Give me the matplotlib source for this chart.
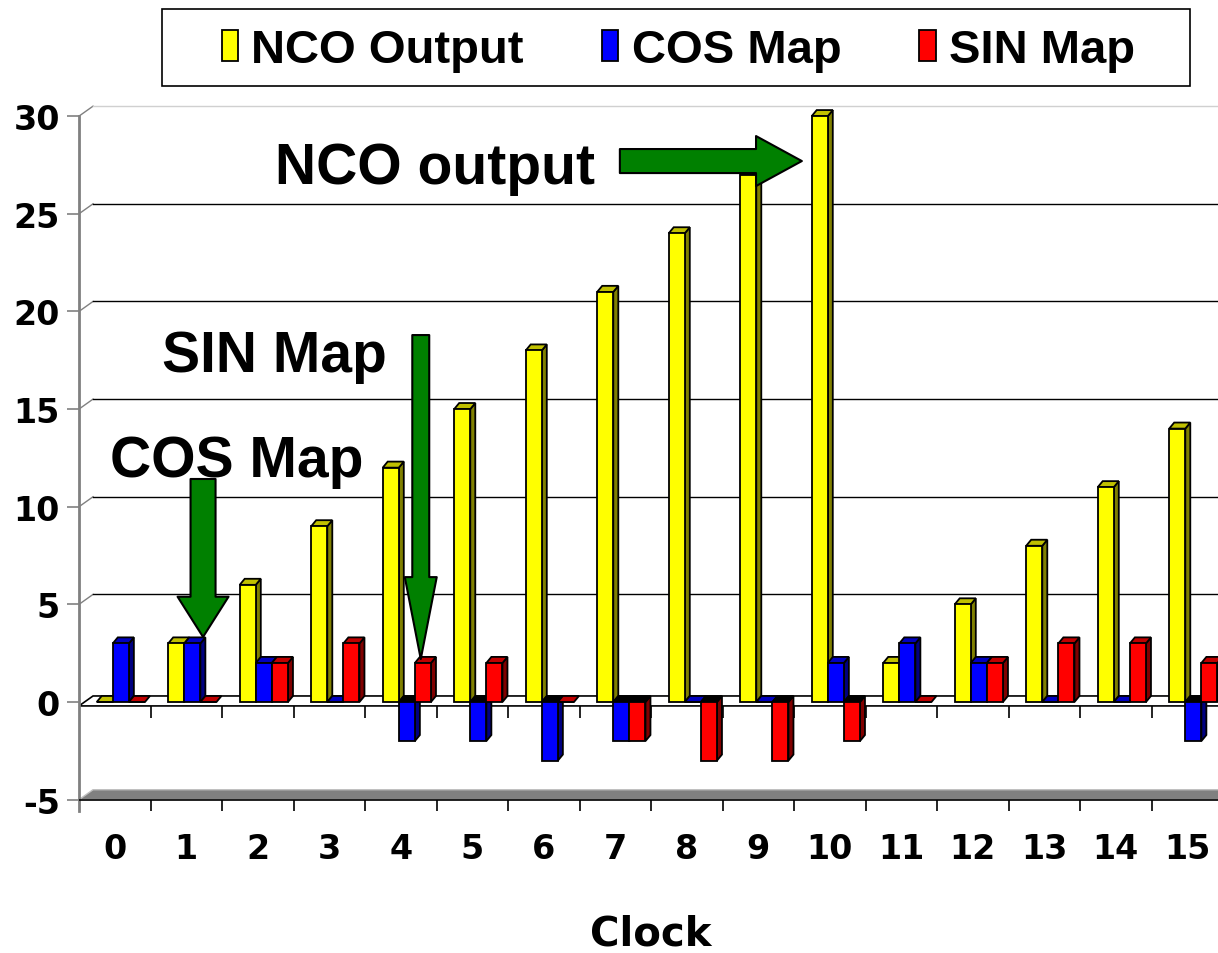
import numpy as np
import matplotlib.pyplot as plt
from matplotlib.patches import Polygon, Rectangle, ArrowStyle

# Clock steps and the three series
clock = list(range(16))
nco_output = [0, 3, 6, 9, 12, 15, 18, 21, 24, 27, 30, 2, 5, 8, 11, 14]
cos_map = [3, 3, 2, 0, -2, -2, -3, -2, 0, 0, 2, 3, 2, 0, 0, -2]
sin_map = [0, 0, 2, 3, 2, 2, 0, -2, -3, -3, -2, 0, 2, 3, 3, 2]
series_names = ['NCO Output', 'COS Map', 'SIN Map']
y_ticks = [-5, 0, 5, 10, 15, 20, 25, 30]

# front / side / top shades for the pseudo-3D bars
colours = [('#FFFF00', '#808000', '#C0C000'),
           ('#0000FF', '#000080', '#0000C0'),
           ('#FF0000', '#800000', '#C00000')]
offsets = [-0.14, 0.085, 0.31]
bar_w = 0.225
DX, DY = 0.196, 0.51     # wall depth (data units)
BDX, BDY = 0.07, 0.31    # bar depth

bold = dict(family='DejaVu Sans', weight='bold')
arial = dict(family='Liberation Sans', weight='bold')

fig = plt.figure(figsize=(12.18, 9.54), dpi=100)
ax = fig.add_axes([79 / 1218, 1 - 820.2 / 954, 1144 / 1218, 722.6 / 954])
ax.set_xlim(-0.5, 15.5)
ax.set_ylim(-6, 31)

# back wall gridlines
for v in y_ticks[2:]:
    c = '#D0D0D0' if v == 30 else 'black'
    ax.plot([-0.5, -0.5 + DX], [v, v + DY], color='#808080', lw=1, zorder=1)
    ax.plot([-0.5 + DX, 16], [v + DY, v + DY], color=c, lw=1, zorder=1)

# grey floor at -5
ax.add_patch(Polygon([(-0.5, -5), (16, -5), (16 + DX, -5 + DY), (-0.5 + DX, -5 + DY)],
                     closed=True, fc='#808080', ec='#C0C0C0', lw=1, zorder=2))
ax.plot([-0.75, 16], [-5, -5], color='black', lw=1.2, zorder=3)
# floor at zero
z0 = -0.2
ax.add_patch(Polygon([(-0.5, z0), (16, z0), (16 + DX, z0 + DY), (-0.5 + DX, z0 + DY)],
                     closed=True, fc='white', ec='black', lw=1.2, zorder=2))
# category boundary ticks
bounds = np.arange(1, 17) - 0.5
ax.vlines(bounds, -5.6, -5, color='black', lw=1.2, zorder=3)
ax.vlines(bounds, z0 - 0.6, z0, color='black', lw=1.2, zorder=3)

x = np.array(clock)
handles = []
for k, vals in enumerate([nco_output, cos_map, sin_map]):
    fc, sc, tc = colours[k]
    bars = ax.bar(x + offsets[k], vals, width=bar_w, color=fc, edgecolor='black',
                  linewidth=1.3, label=series_names[k])
    handles.append(bars)
    for i, (p, v) in enumerate(zip(bars.patches, vals)):
        n = i * 3 + k
        x0 = p.get_x()
        x1 = x0 + p.get_width()
        top = max(0, v)
        bot = min(0, v)
        p.set_zorder(10 + 3 * n + 2)
        if v != 0:
            ax.add_patch(Polygon([(x1, bot), (x1 + BDX, bot + BDY), (x1 + BDX, top + BDY), (x1, top)],
                                 closed=True, fc=sc, ec='black', lw=1.3, zorder=10 + 3 * n))
        ax.add_patch(Polygon([(x0, top), (x1, top), (x1 + BDX, top + BDY), (x0 + BDX, top + BDY)],
                             closed=True, fc=tc if v >= 0 else 'black', ec='black', lw=1.3,
                             zorder=10 + 3 * n + 1))

# axes styling
for s in ['top', 'right', 'bottom']:
    ax.spines[s].set_visible(False)
ax.spines['left'].set_color('#808080')
ax.spines['left'].set_linewidth(2)
ax.spines['left'].set_bounds(-5.6, 30)
ax.set_yticks(y_ticks)
ax.set_yticklabels([str(t) for t in y_ticks], fontsize=24, **bold)
ax.tick_params(axis='y', length=8.6, width=1.2, color='#808080', pad=5)
ax.set_xticks(x)
ax.set_xticklabels([str(c) for c in clock], fontsize=24, **bold)
ax.tick_params(axis='x', length=0, pad=9)
ax.set_xlabel('Clock', fontsize=29, labelpad=35, **bold)

# callouts
green = dict(fc='#008000', ec='black', lw=1.5, shrinkA=0, shrinkB=0, mutation_scale=1)
ax.annotate('', xy=(9.61, 27.7), xytext=(-182, 0), textcoords='offset pixels',
            arrowprops=dict(arrowstyle=ArrowStyle.Simple(head_length=33, head_width=36, tail_width=17.3),
                            **green), zorder=100)
ax.annotate('', xy=(4 + offsets[2] - 0.03, sin_map[4] + 0.2), xytext=(0, 324), textcoords='offset pixels',
            arrowprops=dict(arrowstyle=ArrowStyle.Simple(head_length=59, head_width=23, tail_width=12.2),
                            **green), zorder=100)
ax.annotate('', xy=(1 + offsets[1] + 0.15, cos_map[1] + 0.33), xytext=(0, 158), textcoords='offset pixels',
            arrowprops=dict(arrowstyle=ArrowStyle.Simple(head_length=29, head_width=36.7, tail_width=18),
                            **green), zorder=100)
ax.text(2.24, 26.6, 'NCO output', fontsize=41, va='baseline', zorder=101, **arial)
ax.text(0.66, 16.95, 'SIN Map', fontsize=41, va='baseline', zorder=101, **arial)
ax.text(-0.07, 11.57, 'COS Map', fontsize=41, va='baseline', zorder=101, **arial)

# legend with its own box
fig.add_artist(Rectangle((162 / 1218, 1 - 87 / 954), 1028 / 1218, 77 / 954,
                         transform=fig.transFigure, fill=False, ec='black', lw=1.2))
fig.legend(handles=handles, labels=series_names, loc='center', bbox_to_anchor=(0.557, 0.9465),
           ncol=3, prop=dict(family='Liberation Sans', weight='bold', size=34),
           frameon=False, handlelength=0.35, handleheight=0.62, handletextpad=0.28,
           columnspacing=1.65, borderpad=0.3)

fig.savefig('out.png', dpi=100)
